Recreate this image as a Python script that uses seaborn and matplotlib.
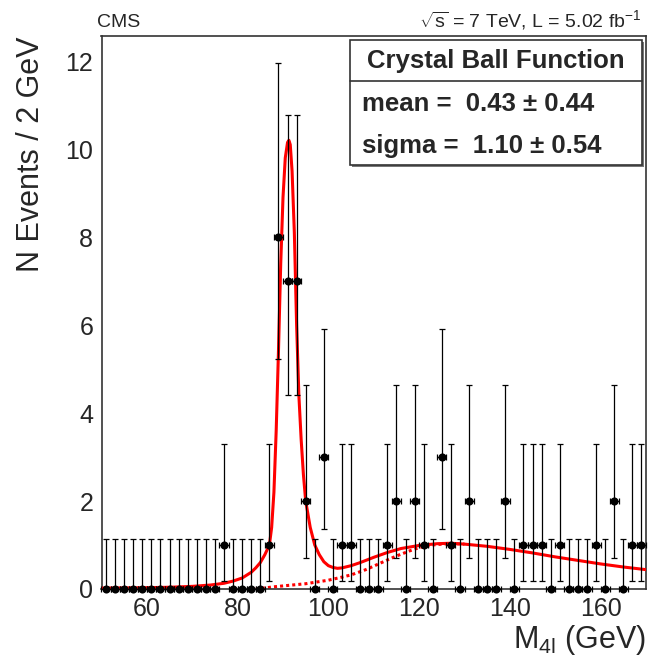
import numpy as np
import pandas as pd
import matplotlib
matplotlib.use("Agg")
import matplotlib.pyplot as plt
from matplotlib.patches import Rectangle
from matplotlib.lines import Line2D
from matplotlib.ticker import MultipleLocator
import seaborn as sns
from math import exp, log, factorial

# ---------------- data ----------------
bin_centers = list(range(51, 170, 2))          # 2 GeV bins, 50-170 GeV
counts = [0, 0, 0, 0, 0, 0, 0, 0, 0, 0, 0, 0, 0,   # 51-75
          1, 0, 0, 0, 0, 1, 8, 7, 7, 2,             # 77-95
          0, 3, 0, 1, 1, 0, 0, 0, 1, 2,             # 97-115
          0, 2, 1, 0, 3, 1, 0, 2, 0, 0,             # 117-135
          0, 2, 0, 1, 1, 1, 0, 1, 0, 0,             # 137-155
          0, 1, 0, 2, 0, 1, 1]                      # 157-169

fit_x = [50, 60, 65, 70, 74, 77, 79, 81, 83, 84, 85, 86, 87, 87.5, 88, 88.5,
         89, 89.5, 90, 90.5, 91, 91.3, 91.6, 92, 92.5, 93, 93.5, 94, 94.5, 95,
         96, 97, 98, 99, 100, 101, 102, 103, 105, 107, 110, 113, 116, 120,
         124, 127, 130, 135, 140, 145, 150, 155, 160, 165, 170]
fit_y = [0.02, 0.03, 0.04, 0.06, 0.09, 0.13, 0.18, 0.25, 0.38, 0.48, 0.6, 0.78,
         1.0, 1.4, 2.2, 3.6, 5.4, 7.4, 8.9, 9.8, 10.15, 10.2, 10.1, 9.5, 8.1,
         6.0, 4.4, 3.4, 2.6, 2.0, 1.4, 1.0, 0.78, 0.62, 0.53, 0.49, 0.47, 0.48,
         0.53, 0.6, 0.72, 0.83, 0.92, 0.99, 1.03, 1.04, 1.02, 0.97, 0.9, 0.82,
         0.73, 0.65, 0.57, 0.5, 0.44]

bkg_x = [84, 88, 90, 95, 100, 103, 105, 108, 110, 113, 115, 118, 120, 123,
         125, 127, 130]
bkg_y = [0.0, 0.05, 0.07, 0.12, 0.2, 0.27, 0.32, 0.43, 0.52, 0.66, 0.75, 0.87,
         0.94, 1.0, 1.02, 1.03, 1.02]

title_text = "Crystal Ball Function"
mean_text = "mean =  0.43 \u00b1 0.44"
sigma_text = "sigma =  1.10 \u00b1 0.54"


# Poisson 68% central interval (RooFit convention)
def pois_cdf(n, mu):
    return sum(exp(-mu) * mu ** k / factorial(k) for k in range(n + 1))


def solve(f, target, lo, hi):
    for _ in range(80):
        mid = 0.5 * (lo + hi)
        if f(mid) > target:
            lo = mid
        else:
            hi = mid
    return 0.5 * (lo + hi)


alpha = 0.158655
def interval(n):
    if n == 0:
        return 0.0, -log(2 * alpha)
    up = solve(lambda m: pois_cdf(n, m), alpha, 0, 50)
    lo = solve(lambda m: pois_cdf(n - 1, m), 1 - alpha, 0, 50)
    return lo, up


err_lo, err_hi = [], []
for n in counts:
    lo, up = interval(n)
    err_lo.append(n - lo)
    err_hi.append(up - n)

data = pd.DataFrame({"mass": bin_centers, "events": counts})
fit_df = pd.DataFrame({"mass": fit_x, "events": fit_y})
bkg_df = pd.DataFrame({"mass": bkg_x, "events": bkg_y})

# ---------------- style ----------------
sns.set_style("white")
plt.rcParams["font.family"] = ["Liberation Sans", "DejaVu Sans"]
plt.rcParams["mathtext.fontset"] = "custom"
plt.rcParams["mathtext.rm"] = "Liberation Sans"
plt.rcParams["mathtext.it"] = "Liberation Sans:italic"
plt.rcParams["mathtext.bf"] = "Liberation Sans:bold"
plt.rcParams["mathtext.default"] = "regular"

W, H = 653, 663
fig = plt.figure(figsize=(W / 100, H / 100), dpi=100)
fig.patch.set_facecolor("white")
L, R, T, B = 101.5, 646, 36, 589
ax = fig.add_axes([L / W, 1 - B / H, (R - L) / W, (B - T) / H])


def px(x, y):
    return x / W, 1 - y / H


# curves
sns.lineplot(data=bkg_df, x="mass", y="events", ax=ax, color="#ff0000",
             linewidth=2.2, estimator=None, zorder=2)
ax.lines[-1].set_linestyle((0, (1.0, 1.0)))
sns.lineplot(data=fit_df, x="mass", y="events", ax=ax, color="#ff0000",
             linewidth=2.2, estimator=None, zorder=3)

# data with error bars
ax.errorbar(data["mass"], data["events"], yerr=[err_lo, err_hi], xerr=1.0,
            fmt="none", ecolor="black", elinewidth=0.9, capsize=2.2,
            capthick=0.9, zorder=4, clip_on=False)
sns.scatterplot(data=data, x="mass", y="events", ax=ax, color="black",
                s=34, marker="o", edgecolor="black", linewidth=0,
                zorder=5, clip_on=False)

ax.set_xlim(50, 170)
ax.set_ylim(0, 12.57)
ax.xaxis.set_major_locator(MultipleLocator(20))
ax.xaxis.set_minor_locator(MultipleLocator(5))
ax.yaxis.set_major_locator(MultipleLocator(2))
ax.yaxis.set_minor_locator(MultipleLocator(0.5))
ax.tick_params(which="both", direction="in", top=False, right=False,
               width=1.0, color="#333333")
ax.tick_params(which="major", length=10, labelsize=18, pad=6)
ax.tick_params(which="minor", length=5)
for s in ax.spines.values():
    s.set_color("#333333")
    s.set_linewidth(1.2)

ax.set_xlabel("M$_{4l}$ (GeV)", fontsize=22, loc="right")
ax.xaxis.set_label_coords(1.0, -0.062)
ax.xaxis.label.set_va("top")
ax.set_ylabel("N Events / 2 GeV", fontsize=22, loc="top")
ax.yaxis.set_label_coords(-0.102, 1.0)

# header texts
fig.text(*px(97, 27), "CMS", fontsize=14, ha="left", va="baseline")
fig.text(*px(641, 27), r"$\sqrt{s}$ = 7 TeV, L = 5.02 fb$^{-1}$",
         fontsize=14, ha="right", va="baseline")

# parameter box
bx0, bx1, by0, by1 = 350, 642, 40, 165
shadow = Rectangle(px(bx0 + 2, by1 + 2), (bx1 - bx0) / W, (by1 - by0) / H,
                   transform=fig.transFigure, facecolor="#777777",
                   edgecolor="none", zorder=9)
box = Rectangle(px(bx0, by1), (bx1 - bx0) / W, (by1 - by0) / H,
                transform=fig.transFigure, facecolor="white",
                edgecolor="#333333", linewidth=1.2, zorder=10)
fig.add_artist(shadow)
fig.add_artist(box)
sep = Line2D([bx0 / W, bx1 / W], [1 - 81 / H, 1 - 81 / H],
             transform=fig.transFigure, color="#333333", linewidth=1.2,
             zorder=11)
fig.add_artist(sep)
fig.text(*px((bx0 + bx1) / 2, 61), title_text, fontsize=18.5,
         fontweight="bold", ha="center", va="center", zorder=12)
fig.text(*px(362, 104), mean_text, fontsize=18.5, fontweight="bold",
         ha="left", va="center", zorder=12)
fig.text(*px(362, 146), sigma_text, fontsize=18.5, fontweight="bold",
         ha="left", va="center", zorder=12)

fig.savefig("out.png", dpi=100)
